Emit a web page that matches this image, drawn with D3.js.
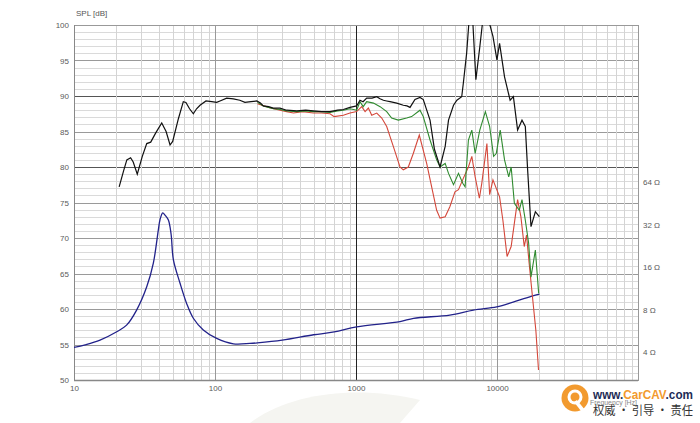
<!DOCTYPE html>
<html><head><meta charset="utf-8">
<script src="https://cdn.jsdelivr.net/npm/d3@7"></script>
<style>
body{margin:0;background:#fff;}
svg{display:block;font-family:"Liberation Sans",Arial,sans-serif;}
</style></head>
<body><svg id="chart" width="700" height="423"></svg>
<script>
// ---- data ----
const freqTicks = [10, 100, 1000, 10000];
const splTicks = [50, 55, 60, 65, 70, 75, 80, 85, 90, 95, 100];
const impTicks = [4, 8, 16, 32, 64];

// on-axis SPL (black) [Hz, dB]
const splBlack = [[20.9,77.2],[22.5,79.5],[23.7,81.0],[25.2,81.3],[26.3,80.7],[28.1,79.0],[30.5,81.5],[32.8,83.3],[35.0,83.5],[38,84.8],[41.9,86.2],[45,85],[48.0,83.1],[50.1,83.6],[55,86.8],[59.6,89.2],[62.2,89.1],[66,88.2],[70.2,87.5],[74,88.2],[78.3,88.7],[86.3,89.3],[94.8,89.2],[102.8,89.1],[108.5,89.3],[121,89.7],[135,89.6],[150,89.4],[163,89.1],[180,89.2],[198,89.3],[210,89.0],[220,88.6],[240,88.5],[259,88.3],[289,88.3],[322,88.0],[380,87.9],[440,88.0],[498,87.9],[570,87.8],[654,87.8],[740,88.0],[813,88.1],[906,88.4],[1011,88.6],[1067,89.4],[1122,89.2],[1191,89.7],[1300,89.7],[1403,89.9],[1480,89.6],[1565,89.4],[1650,89.3],[1743,89.2],[1944,89.0],[2166,88.7],[2300,88.6],[2416,88.4],[2620,89.5],[2843,89.8],[3000,89.5],[3350,86.6],[3600,82.5],[3945,80.0],[4290,82.9],[4530,86.6],[4915,88.7],[5195,89.4],[5620,89.9],[5770,91.8],[6090,96.0],[6356,101],[6713,101],[7083,92.3],[7550,96.9],[7963,101],[8635,101],[9360,98.4],[9990,95.1],[10430,97.4],[11310,92.7],[12390,89.4],[13070,89.9],[14000,85.2],[15040,86.6],[15880,85.7],[16490,79.6],[17420,71.6],[18710,73.7],[19970,73.0]];

// 30 degree off-axis (green)
const splGreen = [[200,89.1],[220,88.6],[240,88.4],[260,88.2],[289,88.1],[322,87.9],[380,87.8],[440,87.9],[498,87.8],[570,87.8],[654,87.7],[740,87.9],[813,88.0],[906,88.2],[1011,88.0],[1067,89.2],[1125,88.5],[1190,89.2],[1330,89.0],[1482,88.5],[1651,87.8],[1790,86.9],[1996,86.6],[2287,86.9],[2480,87.1],[2843,88.0],[3000,87.1],[3350,83.8],[3733,81.0],[3945,80.0],[4290,80.5],[4530,79.1],[4915,77.5],[5330,79.1],[5720,77.7],[5940,77.2],[6270,83.8],[6630,85.2],[7000,81.9],[7550,85.2],[8270,87.8],[8870,85.7],[9460,81.5],[9880,81.9],[10540,85.2],[11310,81.0],[12110,78.6],[12600,80.0],[13280,74.9],[14390,73.9],[15040,75.4],[15880,72.5],[16760,69.3],[17420,64.5],[18710,68.3],[19750,62.2]];

// 60 degree off-axis (red)
const splRed = [[200,88.9],[240,88.4],[289,88.0],[322,87.8],[360,87.6],[420,87.8],[498,87.6],[570,87.6],[654,87.5],[700,87.1],[813,87.3],[906,87.6],[1011,87.8],[1098,88.5],[1160,87.8],[1224,88.3],[1293,87.3],[1403,87.6],[1523,86.9],[1651,85.7],[1839,82.9],[2051,80.0],[2165,79.6],[2349,80.0],[2548,81.9],[2811,84.5],[3171,80.5],[3440,77.2],[3733,73.9],[3945,72.8],[4290,73.0],[4630,74.4],[5034,76.5],[5330,76.8],[5768,78.4],[6270,80.0],[6630,81.5],[7000,78.6],[7500,75.6],[7800,77.7],[8480,83.3],[8870,76.1],[9360,78.2],[10430,75.8],[11010,72.5],[11790,67.4],[12600,68.8],[13280,72.1],[14000,75.4],[14770,73.0],[15600,68.8],[16200,70.4],[16910,66.4],[17850,61.7],[18860,57.0],[19700,51.4]];

// impedance (blue) [Hz, ohm]
const impedance = [[10,4.31],[12,4.5],[15.3,4.86],[20.1,5.57],[23.6,6.2],[27.8,7.93],[32.8,11.6],[36.5,17.0],[39.6,29.2],[40.7,34.6],[42.6,38.9],[44.2,37.5],[46.7,34.6],[48.8,27.5],[50.7,18.0],[56.5,12.3],[62.9,8.85],[70.2,6.94],[82.6,5.73],[102.8,4.99],[135,4.57],[177,4.6],[200,4.64],[300,4.85],[500,5.3],[700,5.55],[1011,6.03],[2051,6.58],[2560,6.94],[4630,7.31],[6800,7.94],[9940,8.37],[13000,9.04],[16200,9.7],[20000,10.3]];

// ---- chart ----
const L = 74, R = 638, T = 25, B = 380;
const svg = d3.select("#chart");
const x = d3.scaleLog().domain([10, 100000]).range([L, R]);
const y = d3.scaleLinear().domain([50, 100]).range([B, T]);
const yImp = d3.scaleLog().domain([2.53, 838]).range([B, T]);

// faint background watermark swoosh
svg.append("path")
  .attr("d", "M250,423 C290,392 360,385 420,400 L400,423 Z")
  .attr("fill", "#f5f5f1");

const grid = svg.append("g");
// horizontal grid
d3.range(50, 101, 1).forEach(v => {
  let c = "#dadada";
  if (v % 5 === 0) c = "#9a9a9a";
  if (v === 80 || v === 90) c = "#555";
  grid.append("line").attr("x1", L).attr("x2", R)
    .attr("y1", Math.round(y(v)) + 0.5).attr("y2", Math.round(y(v)) + 0.5)
    .attr("stroke", c).attr("stroke-width", v % 5 === 0 ? 1.2 : 1);
});
// vertical grid
[10, 100, 1000, 10000].forEach(d => {
  for (let k = 1; k <= 9; k++) {
    const f = d * k;
    let c = "#d4d4d4";
    if (k === 1) c = d === 1000 ? "#222" : "#999";
    grid.append("line").attr("y1", T).attr("y2", B)
      .attr("x1", Math.round(x(f)) + 0.5).attr("x2", Math.round(x(f)) + 0.5)
      .attr("stroke", c).attr("stroke-width", 1);
  }
});
// frame
svg.append("rect").attr("x", L + 0.5).attr("y", T + 0.5).attr("width", R - L).attr("height", B - T)
  .attr("fill", "none").attr("stroke", "#999");
svg.append("line").attr("x1", L).attr("x2", R).attr("y1", B + 0.5).attr("y2", B + 0.5).attr("stroke", "#888").attr("stroke-width", 1.5);
svg.append("line").attr("x1", L + 0.5).attr("x2", L + 0.5).attr("y1", T).attr("y2", B).attr("stroke", "#888");

// axes (labels only)
const tickStyle = g => {
  g.select(".domain").remove();
  g.selectAll("line").remove();
  g.selectAll("text").attr("fill", "#5a5a5a").attr("font-size", 8)
    .attr("font-family", "Liberation Sans, Arial, sans-serif");
};
svg.append("g").attr("transform", `translate(${L - 5},0)`)
  .call(d3.axisLeft(y).tickValues(splTicks).tickSize(0).tickPadding(0).tickFormat(d3.format("d")))
  .call(tickStyle);
svg.append("g").attr("transform", `translate(0,${B + 5})`)
  .call(d3.axisBottom(x).tickValues(freqTicks).tickSize(0).tickPadding(0).tickFormat(d3.format("d")))
  .call(tickStyle);
svg.append("g").attr("transform", `translate(${R + 5},0)`)
  .call(d3.axisRight(yImp).tickValues(impTicks).tickSize(0).tickPadding(0).tickFormat(d => d + " Ω"))
  .call(tickStyle);

svg.append("text").attr("x", 76).attr("y", 16).attr("font-size", 8).attr("fill", "#555").text("SPL [dB]");
svg.append("text").attr("x", 590).attr("y", 405).attr("font-size", 8).attr("fill", "#888")
  .attr("textLength", 47).attr("lengthAdjust", "spacingAndGlyphs").text("Frequency [Hz]");

// curves
svg.append("clipPath").attr("id", "clip").append("rect")
  .attr("x", L).attr("y", T).attr("width", R - L).attr("height", B - T);
const plot = svg.append("g").attr("clip-path", "url(#clip)");
const line = d3.line().x(d => x(d[0])).y(d => y(d[1]));
const lineImp = d3.line().x(d => x(d[0])).y(d => yImp(d[1])).curve(d3.curveCatmullRom);

plot.append("path").datum(impedance).attr("d", lineImp)
  .attr("fill", "none").attr("stroke", "#22228a").attr("stroke-width", 1.3);
plot.append("path").datum(splRed).attr("d", line)
  .attr("fill", "none").attr("stroke", "#d4473a").attr("stroke-width", 1.1);
plot.append("path").datum(splGreen).attr("d", line)
  .attr("fill", "none").attr("stroke", "#2f8a2f").attr("stroke-width", 1.1);
plot.append("path").datum(splBlack).attr("d", line)
  .attr("fill", "none").attr("stroke", "#111").attr("stroke-width", 1.2);

// CarCAV watermark
const wm = svg.append("g");
wm.append("circle").attr("cx", 575).attr("cy", 398).attr("r", 13.5).attr("fill", "#f29a2e");
wm.append("circle").attr("cx", 575).attr("cy", 397).attr("r", 7.5).attr("fill", "#fff");
wm.append("circle").attr("cx", 575).attr("cy", 397).attr("r", 4.5).attr("fill", "#f29a2e");
wm.append("path").attr("d", "M577,400 L585,410 L581,411 L574,402 Z").attr("fill", "#fff");
const t1 = wm.append("text").attr("x", 593).attr("y", 399).attr("font-size", 13).attr("font-weight", "bold")
  .attr("font-family", "Liberation Sans Narrow, Liberation Sans, Arial, sans-serif")
  .attr("textLength", 100).attr("lengthAdjust", "spacingAndGlyphs");
t1.append("tspan").attr("fill", "#1d2b55").text("www.");
t1.append("tspan").attr("fill", "#f29a2e").text("CarCAV");
t1.append("tspan").attr("fill", "#1d2b55").text(".com");
wm.append("text").attr("x", 593).attr("y", 415).attr("font-size", 12)
  .attr("font-family", "Noto Sans CJK SC, sans-serif").attr("fill", "#333")
  .attr("textLength", 100).attr("lengthAdjust", "spacingAndGlyphs")
  .text("权威 · 引导 · 责任");
</script></body></html>
